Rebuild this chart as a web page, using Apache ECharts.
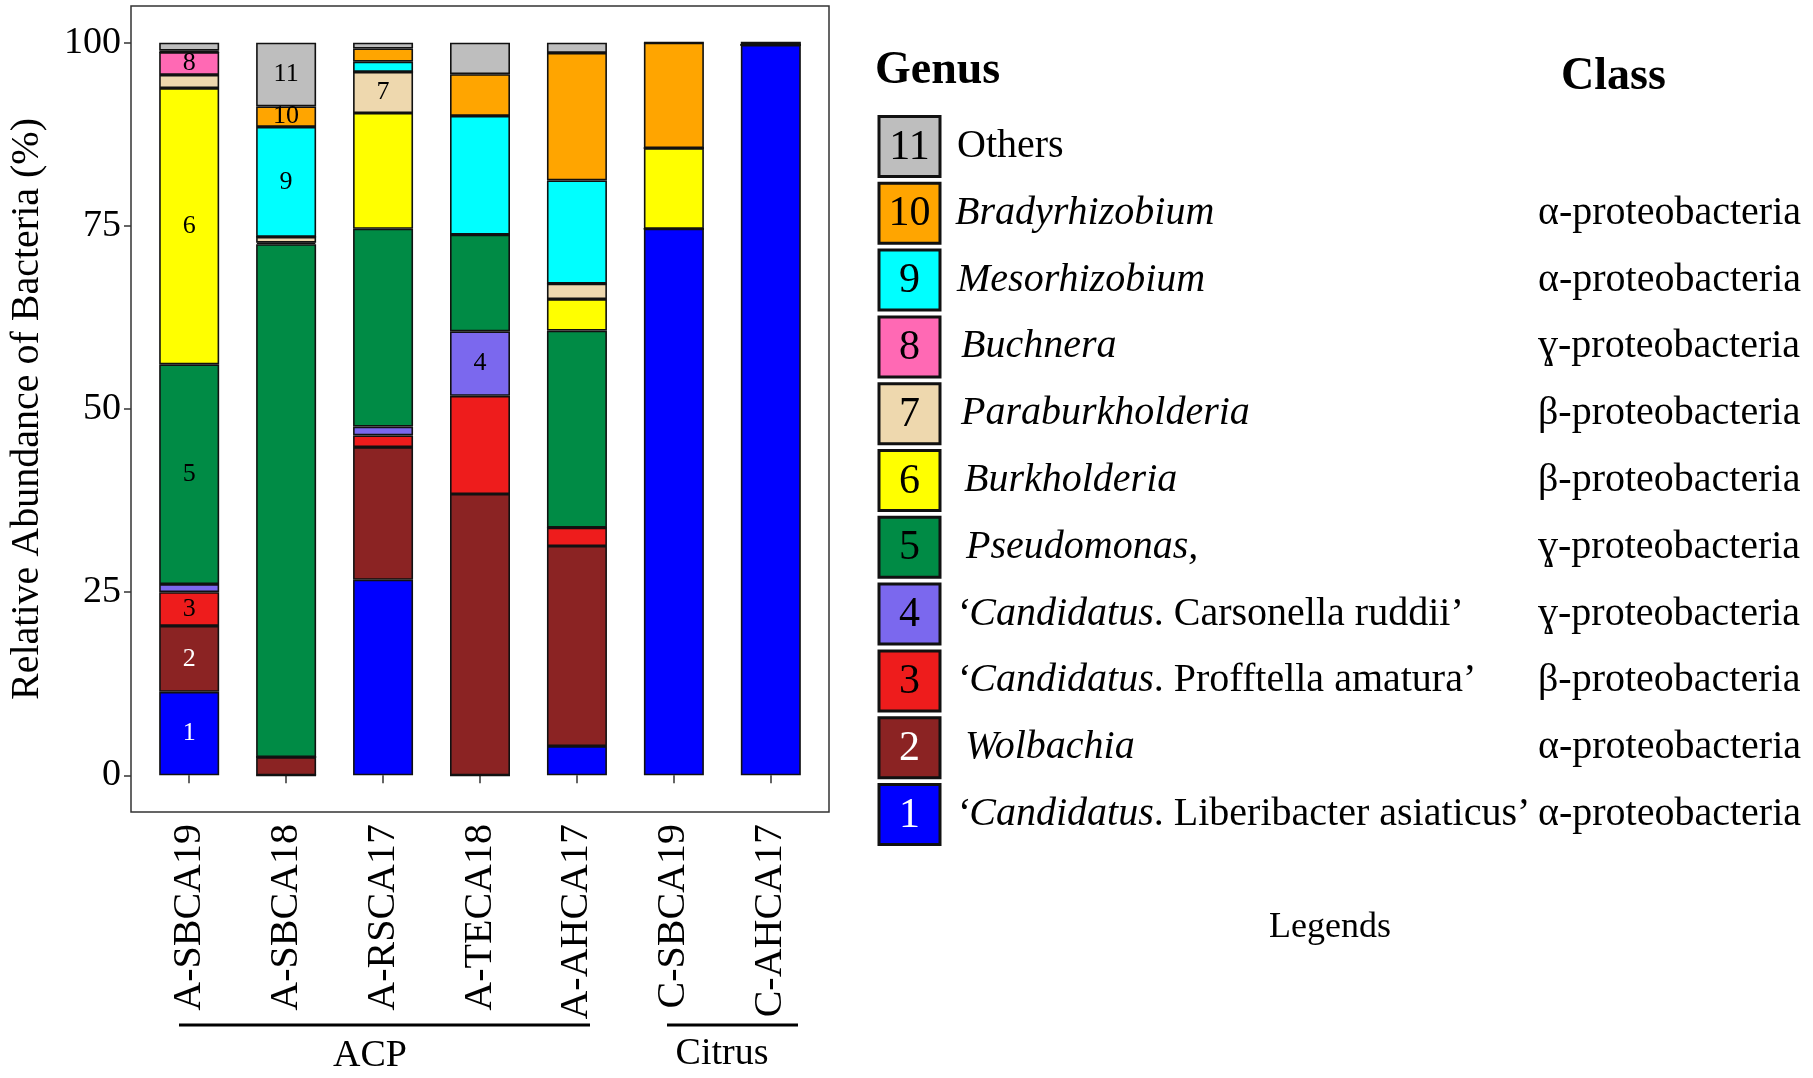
<!DOCTYPE html>
<html>
<head>
<meta charset="utf-8">
<script src="https://cdn.jsdelivr.net/npm/echarts@6/dist/echarts.min.js"></script>
<style>
   html, body { margin: 0; padding: 0; background: #fff; }
   #chart { width: 1813px; height: 1078px; }
</style>
</head>
<body>
<div id="chart"></div>
<script>
// samples on the x axis
var samples = [ 'A-SBCA19', 'A-SBCA18', 'A-RSCA17', 'A-TECA18', 'A-AHCA17', 'C-SBCA19', 'C-AHCA17' ] ;
var yTicks = [ 0, 25, 50, 75, 100 ] ;

// relative abundance (%) per genus, one value per sample
var liberibacter     = [ 11.4,  0.0, 26.7,  0.0,  4.0, 74.6, 99.7 ] ;
var wolbachia        = [  9.0,  2.5, 18.1, 38.4, 27.3,  0.0,  0.0 ] ;
var profftella       = [  4.6,  0.0,  1.6, 13.4,  2.5,  0.0,  0.0 ] ;
var carsonella       = [  1.1,  0.0,  1.2,  8.8,  0.0,  0.0,  0.0 ] ;
var pseudomonas      = [ 30.0, 70.0, 27.0, 13.2, 26.9,  0.0,  0.0 ] ;
var burkholderia     = [ 37.7,  0.2, 15.8,  0.0,  4.3, 11.0,  0.0 ] ;
var paraburkholderia = [  1.8,  0.8,  5.6,  0.0,  2.1,  0.0,  0.0 ] ;
var buchnera         = [  3.1,  0.0,  0.0,  0.0,  0.0,  0.0,  0.0 ] ;
var mesorhizobium    = [  0.0, 15.0,  1.4, 16.2, 14.1,  0.0,  0.0 ] ;
var bradyrhizobium   = [  0.2,  2.8,  1.8,  5.7, 17.4, 14.4,  0.3 ] ;
var others           = [  1.1,  8.7,  0.8,  4.3,  1.4,  0.0,  0.0 ] ;

var genusValues = [ liberibacter, wolbachia, profftella, carsonella, pseudomonas, burkholderia,
                    paraburkholderia, buchnera, mesorhizobium, bradyrhizobium, others ] ;
var genusColors = [ '#0000FF', '#8B2323', '#EE1C1C', '#7B68EE', '#008B45', '#FFFF00',
                    '#EED8AE', '#FF69B4', '#00FFFF', '#FFA500', '#BEBEBE' ] ;
// legend texts (rich text: i = italic, n = normal)
var genusNames = [ '{i|‘Candidatus}{n|. Liberibacter asiaticus’}', '{i|Wolbachia}', '{i|‘Candidatus}{n|. Profftella amatura’}',
                   '{i|‘Candidatus}{n|. Carsonella ruddii’}', '{i|Pseudomonas,}', '{i|Burkholderia}', '{i|Paraburkholderia}',
                   '{i|Buchnera}', '{i|Mesorhizobium}', '{i|Bradyrhizobium}', '{n|Others}' ] ;
var classNames = [ 'α-proteobacteria', 'α-proteobacteria', 'β-proteobacteria', 'ɣ-proteobacteria', 'ɣ-proteobacteria',
                   'β-proteobacteria', 'β-proteobacteria', 'ɣ-proteobacteria', 'α-proteobacteria', 'α-proteobacteria', '' ] ;
// which sample shows the genus number inside its segment
var numberedSamples = [ [ 0 ], [ 0 ], [ 0 ], [ 3 ], [ 0 ], [ 0 ], [ 2 ], [ 0 ], [ 1 ], [ 1 ], [ 1 ] ] ;

var font = 'Liberation Serif' ;

var series = [] ;
var $each = function( arr, fn ){ for( var i = 0; i < arr.length; ++i ) fn( i, arr[i] ) ; } ;
$each( genusValues, function( g, values ){
   var data = [] ;
   $each( values, function( s, v ){
      var item = { value: v } ;
      if( numberedSamples[g].indexOf( s ) >= 0 )
      {
         item.label = { show: true, formatter: String( g + 1 ) } ;
      }
      data.push( item ) ;
   } ) ;
   series.push( {
      name: String( g + 1 ),
      type: 'bar',
      stack: 'abundance',
      xAxisIndex: 1,
      yAxisIndex: 1,
      barWidth: 60,
      data: data,
      itemStyle: { color: genusColors[g], borderColor: '#111', borderWidth: 1.6 },
      label: { show: false, position: 'inside', fontFamily: font, fontSize: 26,
               color: g < 2 ? '#fff' : '#000' },
      emphasis: { disabled: true },
      animation: false
   } ) ;
} ) ;

// custom legend boxes on the right
var graphics = [] ;
var rowTop = 146.5, rowStep = 66.8 ;
var textShift = [ 0, 9, 0, 0, 10, 8, 5, 5, 1, -1, 1 ] ;
for( var r = 0; r < genusNames.length; ++r )
{
   var g = genusNames.length - 1 - r ;
   var cy = rowTop + r * rowStep ;
   graphics.push( { type: 'rect', shape: { x: 879, y: cy - 30, width: 61, height: 60 },
                    style: { fill: genusColors[g], stroke: '#111', lineWidth: 3 } } ) ;
   graphics.push( { type: 'text', x: 909.5, y: cy + 1,
                    style: { text: String( g + 1 ), fontFamily: font, fontSize: 42, align: 'center', verticalAlign: 'middle',
                             fill: g < 2 ? '#fff' : '#000' } } ) ;
   graphics.push( { type: 'text', x: 956 + textShift[g], y: cy,
                    style: { text: genusNames[g], verticalAlign: 'middle', fill: '#000',
                             rich: { i: { fontFamily: font, fontSize: 40, fontStyle: 'italic' },
                                     n: { fontFamily: font, fontSize: 40 } } } } ) ;
   graphics.push( { type: 'text', x: 1538, y: cy,
                    style: { text: classNames[g], fontFamily: font, fontSize: 40, verticalAlign: 'middle', fill: '#000' } } ) ;
}
graphics.push( { type: 'text', x: 875, y: 71, style: { text: 'Genus', fontFamily: font, fontSize: 46, fontWeight: 'bold', verticalAlign: 'middle', fill: '#000' } } ) ;
graphics.push( { type: 'text', x: 1561, y: 77, style: { text: 'Class', fontFamily: font, fontSize: 46, fontWeight: 'bold', verticalAlign: 'middle', fill: '#000' } } ) ;
graphics.push( { type: 'text', x: 1330, y: 928, style: { text: 'Legends', fontFamily: font, fontSize: 36, align: 'center', verticalAlign: 'middle', fill: '#000' } } ) ;
// sample groups under the x axis
graphics.push( { type: 'line', shape: { x1: 179, y1: 1025, x2: 590, y2: 1025 }, style: { stroke: '#000', lineWidth: 3 } } ) ;
graphics.push( { type: 'line', shape: { x1: 667, y1: 1025, x2: 798, y2: 1025 }, style: { stroke: '#000', lineWidth: 3 } } ) ;
graphics.push( { type: 'text', x: 370, y: 1056, style: { text: 'ACP', fontFamily: font, fontSize: 38, align: 'center', verticalAlign: 'middle', fill: '#000' } } ) ;
graphics.push( { type: 'text', x: 722, y: 1054, style: { text: 'Citrus', fontFamily: font, fontSize: 38, align: 'center', verticalAlign: 'middle', fill: '#000' } } ) ;

var option = {
   backgroundColor: '#fff',
   animation: false,
   grid: [
      { left: 131, top: 6, width: 698, height: 806, show: true, borderColor: '#333', borderWidth: 1.5, backgroundColor: 'transparent' },
      { left: 140.7, top: 6, width: 678.6, height: 806 }
   ],
   xAxis: [
      { gridIndex: 0, type: 'value', min: 0, max: 1, show: false },
      { gridIndex: 1, type: 'category', data: samples,
        axisLine: { show: false },
        axisTick: { show: true, alignWithLabel: true, length: 8, lineStyle: { color: '#333', width: 1.5 } },
        axisLabel: { rotate: 90, margin: 12, fontFamily: font, fontSize: 40, color: '#000' } }
   ],
   yAxis: [
      { gridIndex: 0, type: 'value', min: -5, max: 105,
        name: 'Relative Abundance of Bacteria (%)', nameLocation: 'middle', nameGap: 84, nameRotate: 90,
        nameTextStyle: { fontFamily: font, fontSize: 40, color: '#000' },
        axisLine: { show: false },
        axisTick: { show: true, customValues: yTicks, length: 7, lineStyle: { color: '#333', width: 1.5 } },
        axisLabel: { customValues: yTicks, margin: 10, fontFamily: font, fontSize: 38, color: '#000' },
        splitLine: { show: false } },
      { gridIndex: 1, type: 'value', min: -5, max: 105, show: false, splitLine: { show: false } }
   ],
   series: series,
   graphic: graphics
} ;

var chart = echarts.init( document.getElementById( 'chart' ) ) ;
chart.setOption( option ) ;
</script>
</body>
</html>
